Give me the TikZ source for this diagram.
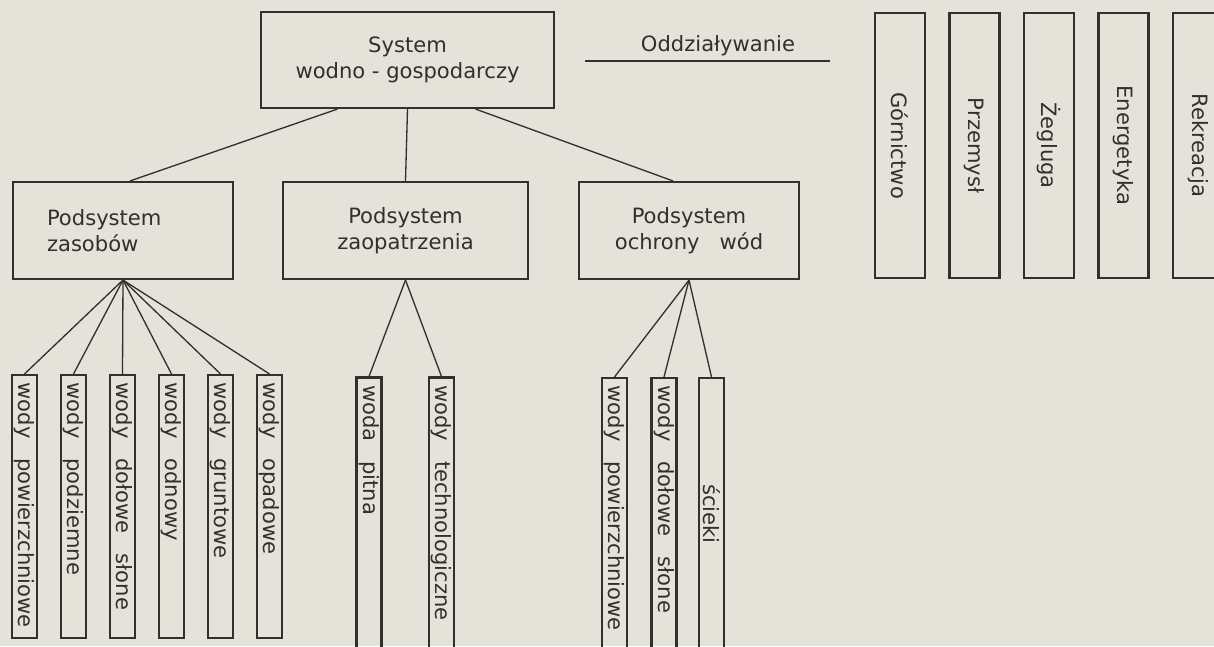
\documentclass[tikz,border=0pt]{standalone}
\usepackage{fontspec}
\setmainfont{DejaVu Sans}
\usepackage{tikz}
\usetikzlibrary{calc}
\definecolor{paper}{RGB}{228,226,217}
\definecolor{ink}{RGB}{48,48,46}
\newcommand{\odst}{\hspace{0.4cm}}
\hyphenpenalty=10000

\begin{document}
\begin{tikzpicture}[x=0.02cm,y=-0.02cm,color=ink,line width=0.75pt,
        box/.style={rectangle,draw,line width=1.2pt,inner sep=0pt,align=center,minimum height=1.94cm},
        leaf/.style={rectangle,draw,line width=1.2pt,rotate=-90,minimum height=0.5cm,inner ysep=0pt,inner xsep=0.15cm,align=left,text width=4.96cm},
        longleaf/.style={leaf,text width=5.14cm},
        dzial/.style={rectangle,draw,line width=1.2pt,rotate=-90,minimum width=5.3cm,minimum height=1cm,inner sep=0pt},
        every node/.style={font=\fontsize{12}{15}\selectfont}]
  \useasboundingbox (0,0) rectangle (1214,646);
  \fill[paper] (0,0) rectangle (1214,646);
  \node[box,minimum width=5.86cm,minimum height=1.92cm] (sys) at (407.5,60) {System\\wodno - gospodarczy};
  \node[box,minimum width=4.4cm,text width=3.04cm,inner xsep=0.68cm,align=left] (zas) at (123,230.5) {Podsystem\\zasobów};
  \node[box,minimum width=4.9cm] (zao) at (405.5,230.5) {Podsystem\\zaopatrzenia};
  \node[box,minimum width=4.4cm] (och) at (689,230.5) {Podsystem\\ochrony\odst wód};
  \node (odd) at (718,46) {Oddziaływanie};
  \coordinate (oddL) at (585,61);
  \coordinate (oddR) at (830,61);
  \draw (oddL) -- (oddR);
  \node[dzial] (gor) at (900,145.5) {Górnictwo};
  \node[dzial] (prz) at ($(gor)+(74.5,0)$) {Przemysł};
  \node[dzial] (zeg) at ($(prz)+(74.5,0)$) {Żegluga};
  \node[dzial] (ene) at ($(zeg)+(74.5,0)$) {Energetyka};
  \node[dzial] (rek) at ($(ene)+(74.5,0)$) {Rekreacja};
  \node[leaf] (zas1) at (24.5,506.5) {wody\odst powierzchniowe};
  \node[leaf] (zas2) at ($(zas1)+(49,0)$) {wody\odst podziemne};
  \node[leaf] (zas3) at ($(zas2)+(49,0)$) {wody\odst dołowe\odst słone};
  \node[leaf] (zas4) at ($(zas3)+(49,0)$) {wody\odst odnowy};
  \node[leaf] (zas5) at ($(zas4)+(49,0)$) {wody\odst gruntowe};
  \node[leaf] (zas6) at ($(zas5)+(49,0)$) {wody\odst opadowe};
  \node[longleaf] (zao1) at (369,513.5) {woda\odst pitna};
  \node[longleaf] (zao2) at ($(zao1)+(72.5,0)$) {wody\odst technologiczne};
  \node[longleaf] (och1) at (614.5,514) {wody\odst powierzchniowe};
  \node[longleaf] (och2) at ($(och1)+(49.5,0)$) {wody\odst dołowe\odst słone};
  \node[longleaf,align=center] (och3) at ($(och2)+(47.5,0)$) {ścieki};
  \path
    ($(sys.south)+(-70,0)$) edge ($(zas.north)+(7,0)$)
    (sys.south) edge (zao.north)
    ($(sys.south)+(68,0)$) edge ($(och.north)+(-16,0)$)
    (zas.south) edge (zas1.west)
    (zas.south) edge (zas2.west)
    (zas.south) edge (zas3.west)
    (zas.south) edge (zas4.west)
    (zas.south) edge (zas5.west)
    (zas.south) edge (zas6.west)
    (zao.south) edge (zao1.west)
    (zao.south) edge (zao2.west)
    (och.south) edge (och1.west)
    (och.south) edge (och2.west)
    (och.south) edge (och3.west)
    ;
\end{tikzpicture}
\end{document}
